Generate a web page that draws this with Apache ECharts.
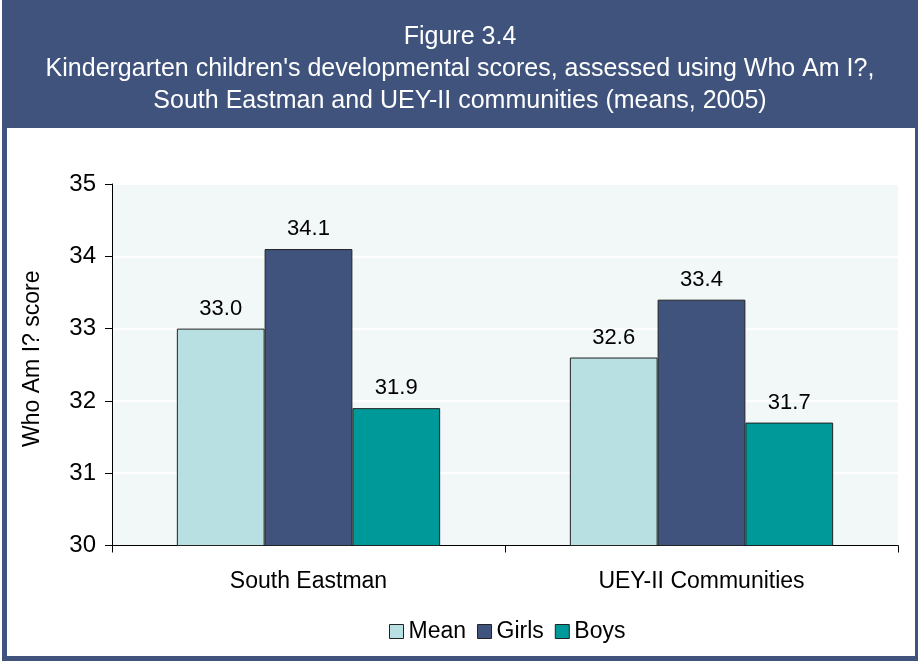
<!DOCTYPE html>
<html>
<head>
<meta charset="utf-8">
<title>Figure 3.4</title>
<script src="https://cdn.jsdelivr.net/npm/echarts@6/dist/echarts.min.js"></script>
<style>
  html, body { margin: 0; padding: 0; background: #ffffff; }
  #chart { width: 918px; height: 661px; }
</style>
</head>
<body>
<div id="chart"></div>
<script>
// Communities compared
var categories = ['South Eastman', 'UEY-II Communities'];

// Mean Who Am I? scores, 2005
var meanScores = [33.0, 32.6];
var girlsScores = [34.1, 33.4];
var boysScores = [31.9, 31.7];

var seriesNames = ['Mean', 'Girls', 'Boys'];

// Value axis range and ticks
var yMin = 30;
var yMax = 35;
var yStep = 1;

var titleLines = [
  'Figure 3.4',
  "Kindergarten children's developmental scores, assessed using Who Am I?,",
  'South Eastman and UEY-II communities (means, 2005)'
];
var yAxisTitle = 'Who Am I? score';

var NAVY = '#3F537D';
var FONT = 'Liberation Sans, Arial, Helvetica, sans-serif';

var chart = echarts.init(document.getElementById('chart'), null, { renderer: 'canvas' });

function barSeries(name, values, color) {
  return {
    name: name,
    type: 'bar',
    data: values,
    barGap: '0%',
    barCategoryGap: '33%',
    itemStyle: { color: color, borderColor: '#222222', borderWidth: 1 },
    label: {
      show: true,
      position: 'top',
      distance: 9,
      color: '#000000',
      fontFamily: FONT,
      fontSize: 22,
      formatter: function (p) { return p.value.toFixed(1); }
    },
    emphasis: { disabled: true }
  };
}

// header band, frame and the three title lines
var graphics = [
  { type: 'rect', silent: true, z: 0, shape: { x: 2, y: 0, width: 916, height: 128 }, style: { fill: NAVY } },
  { type: 'rect', silent: true, z: 0, shape: { x: 2, y: 0, width: 5, height: 661 }, style: { fill: NAVY } },
  { type: 'rect', silent: true, z: 0, shape: { x: 915, y: 0, width: 3, height: 661 }, style: { fill: NAVY } },
  { type: 'rect', silent: true, z: 0, shape: { x: 2, y: 656, width: 916, height: 5 }, style: { fill: NAVY } }
];
titleLines.forEach(function (line, i) {
  graphics.push({
    type: 'text',
    silent: true,
    z: 1,
    x: 460,
    y: 37 + i * 32,
    style: {
      text: line,
      fill: '#ffffff',
      font: '25px ' + FONT,
      textAlign: 'center',
      textVerticalAlign: 'middle'
    }
  });
});

chart.setOption({
  animation: false,
  backgroundColor: '#ffffff',
  textStyle: { fontFamily: FONT },
  graphic: graphics,
  legend: {
    data: seriesNames,
    left: 384,
    top: 615,
    itemWidth: 14,
    itemHeight: 14,
    itemGap: 11,
    icon: 'rect',
    textStyle: { fontFamily: FONT, fontSize: 23, color: '#000000' },
    itemStyle: { borderColor: '#222222', borderWidth: 1 },
    selectedMode: false
  },
  grid: {
    left: 112,
    right: 20,
    top: 184,
    bottom: 115.5,
    show: true,
    backgroundColor: '#F2F7F7',
    borderWidth: 0
  },
  xAxis: {
    type: 'category',
    data: categories,
    axisLine: { lineStyle: { color: '#000000', width: 1 } },
    axisTick: { show: true, length: 7, lineStyle: { color: '#000000' } },
    axisLabel: { color: '#000000', fontFamily: FONT, fontSize: 23, margin: 25 }
  },
  yAxis: {
    type: 'value',
    min: yMin,
    max: yMax,
    interval: yStep,
    name: yAxisTitle,
    nameLocation: 'middle',
    nameRotate: 90,
    nameGap: 68,
    nameTextStyle: { color: '#000000', fontFamily: FONT, fontSize: 23, padding: [0, 0, 0, 12] },
    axisLine: { show: true, lineStyle: { color: '#000000', width: 1 } },
    axisTick: { show: true, length: 7, lineStyle: { color: '#000000' } },
    axisLabel: { color: '#000000', fontFamily: FONT, fontSize: 24, margin: 16 },
    splitLine: { show: true, lineStyle: { color: '#ffffff', width: 2 } }
  },
  series: [
    barSeries(seriesNames[0], meanScores, '#B8E0E3'),
    barSeries(seriesNames[1], girlsScores, NAVY),
    barSeries(seriesNames[2], boysScores, '#009999')
  ]
});
</script>
</body>
</html>
